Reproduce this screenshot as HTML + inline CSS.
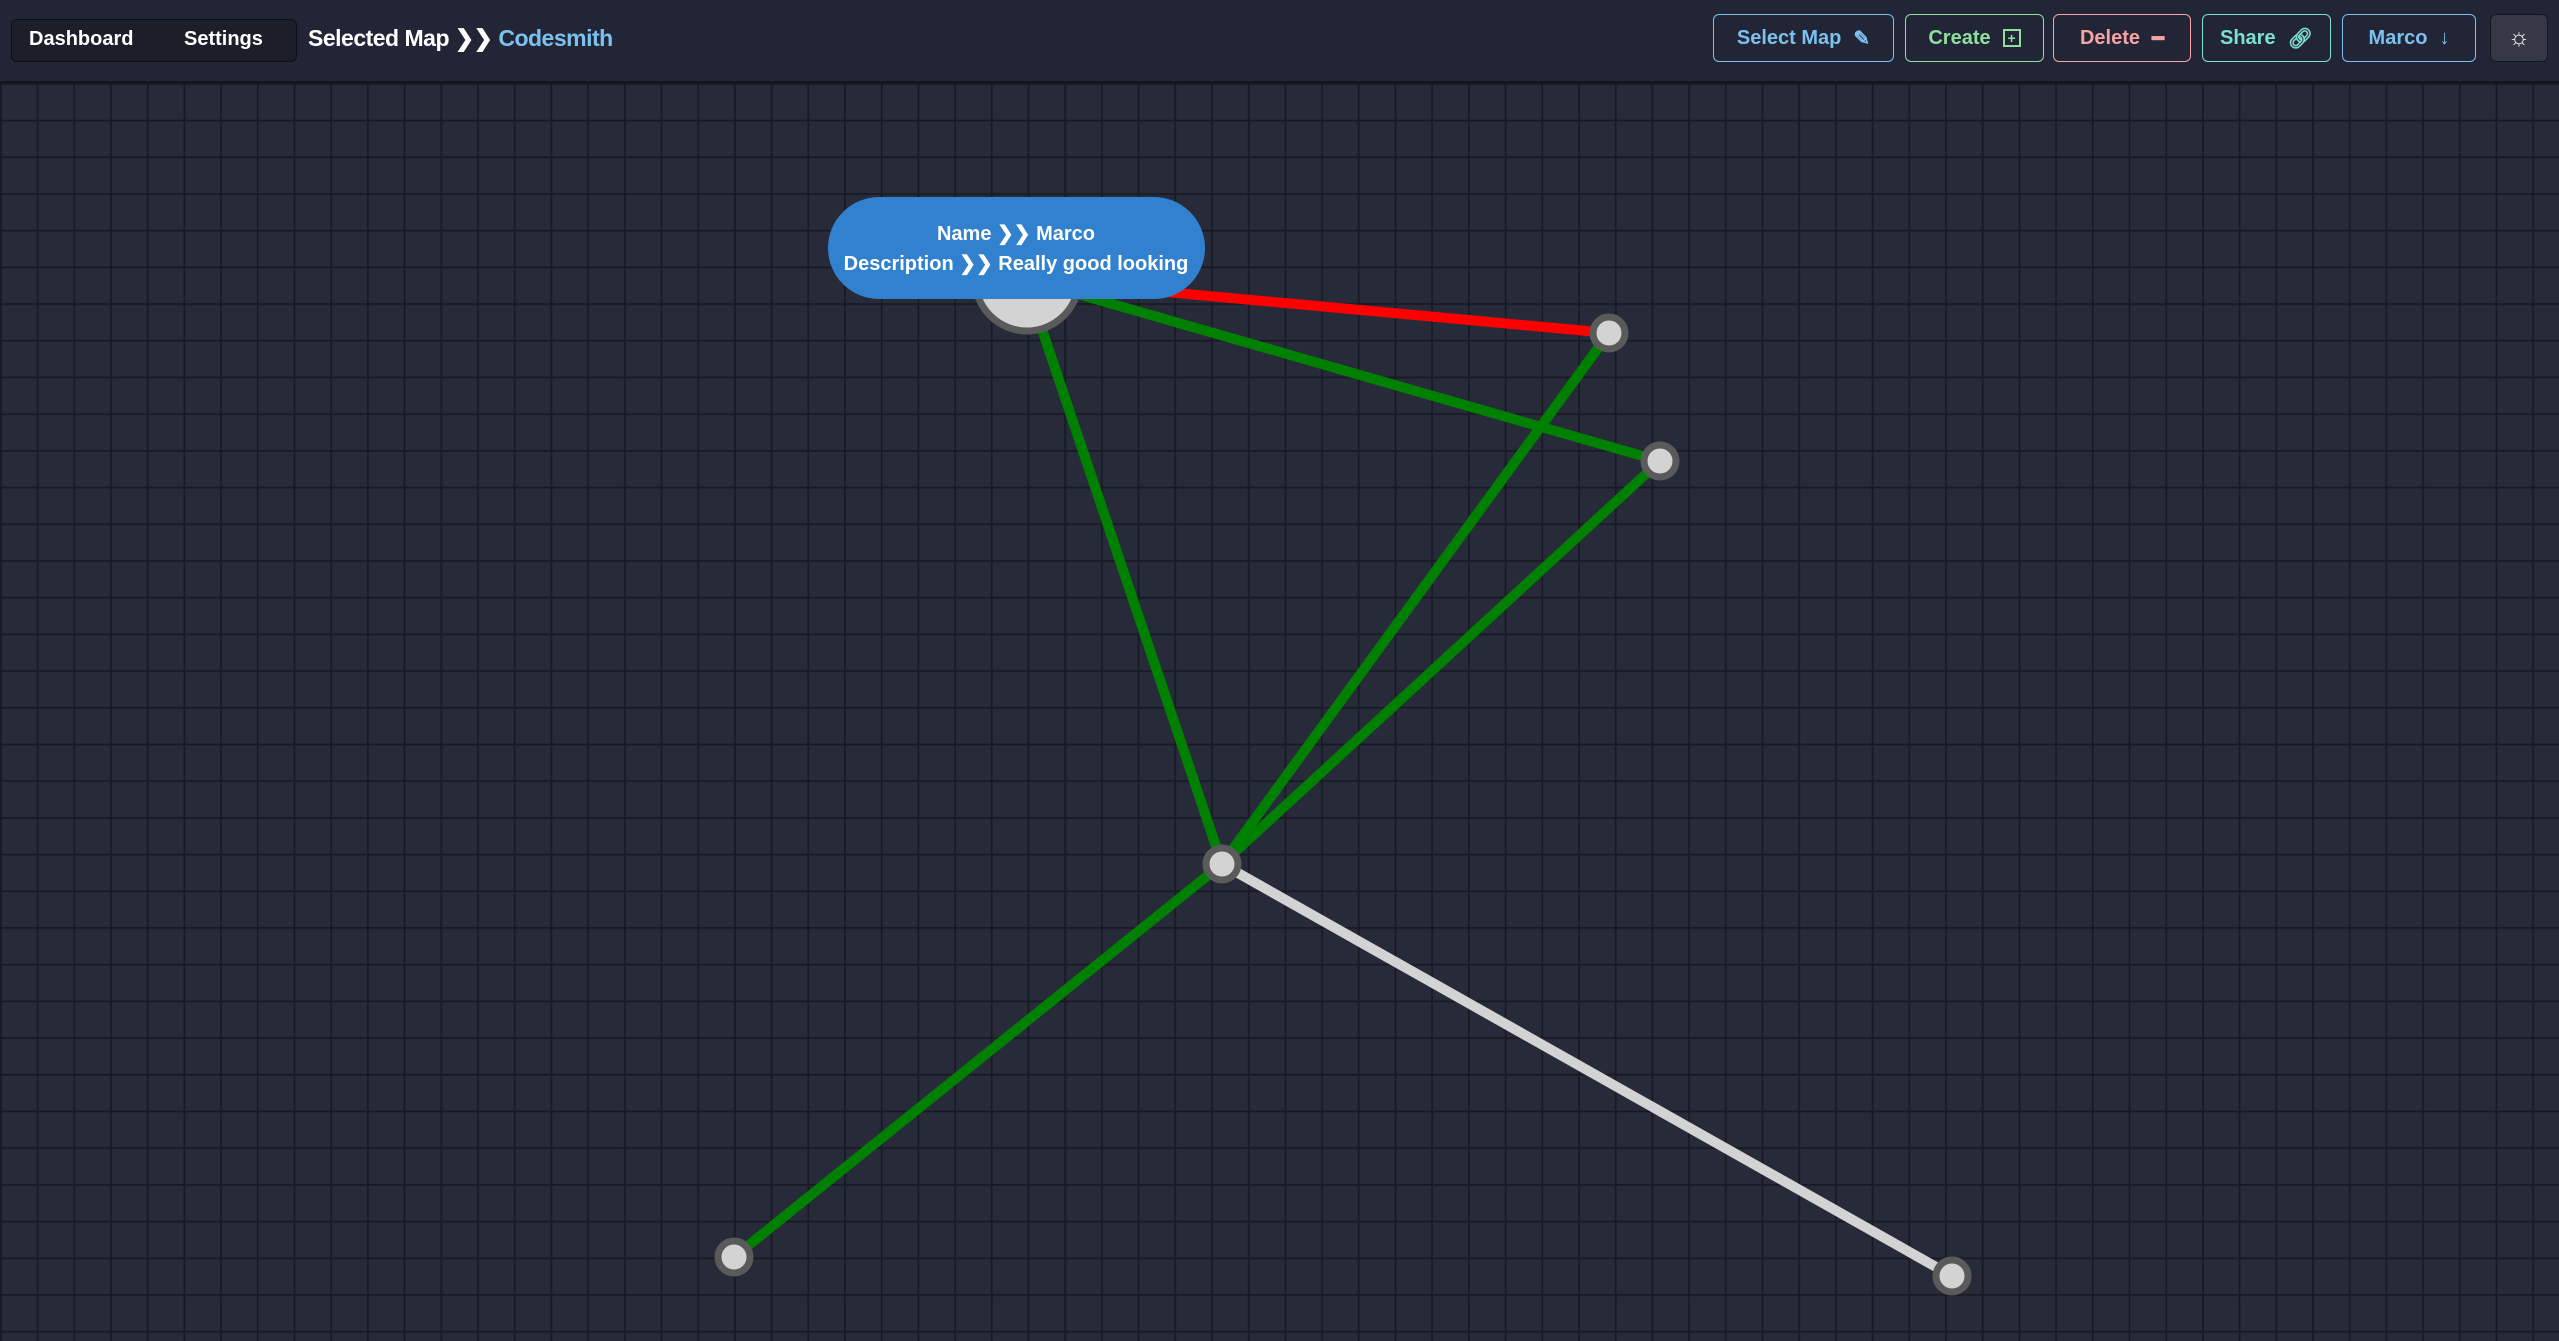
<!DOCTYPE html>
<html><head><meta charset="utf-8"><style>
html,body{margin:0;padding:0;width:2559px;height:1341px;overflow:hidden;background:#272a38;font-family:"Liberation Sans",sans-serif}
.hdr{position:absolute;left:0;top:0;width:2559px;height:81px;background:#222535;border-bottom:2px solid #14161e}
.grp{position:absolute;left:11px;top:19px;width:284px;height:41px;border:1px solid #0d0f15;border-radius:6px;background:#1c1e29}
.t{position:absolute;font-weight:bold;color:#fff;white-space:nowrap}
.btn{position:absolute;top:14px;height:48px;border:1.5px solid;border-radius:6px;box-sizing:border-box;font-weight:bold;font-size:20px;display:flex;align-items:center;justify-content:center;gap:12px;background:#222535}
svg{position:absolute;left:0;top:0}
</style></head><body>
<svg width="2559" height="1341">
<defs><pattern id="g" x="0" y="9.6" width="36.7" height="36.7" patternUnits="userSpaceOnUse"><rect width="36.7" height="36.7" fill="#272a38"/><path d="M0.5 0V36.7M0 0.5H36.7" stroke="#181a23" stroke-width="2.5"/></pattern></defs>
<rect width="2559" height="1341" fill="url(#g)"/>
<g stroke-width="10" stroke-linecap="butt">
<line x1="1025" y1="279" x2="1609" y2="333" stroke="#ff0000"/>
<line x1="1025" y1="279" x2="1660" y2="461" stroke="#008000"/>
<line x1="1025" y1="279" x2="1222" y2="864" stroke="#008000"/>
<line x1="1609" y1="333" x2="1222" y2="864" stroke="#008000"/>
<line x1="1660" y1="461" x2="1222" y2="864" stroke="#008000"/>
<line x1="1222" y1="864" x2="734" y2="1257" stroke="#008000"/>
<line x1="1222" y1="864" x2="1952" y2="1276" stroke="#d3d3d3"/>
</g>
<g fill="#d3d3d3" stroke="#5a5a5a" stroke-width="7">
<circle cx="1027" cy="279" r="52"/>
<circle cx="1609" cy="333" r="16"/>
<circle cx="1660" cy="461" r="16"/>
<circle cx="1222" cy="864" r="16"/>
<circle cx="734" cy="1257" r="16"/>
<circle cx="1952" cy="1276" r="16"/>
</g>
<rect x="828" y="197" width="377" height="102" rx="51" fill="#3181cf"/>
<text x="1016" y="240" fill="#fff" font-family="Liberation Sans, sans-serif" font-weight="bold" font-size="20" text-anchor="middle">Name ❯❯ Marco</text>
<text x="1016" y="270" fill="#fff" font-family="Liberation Sans, sans-serif" font-weight="bold" font-size="20" text-anchor="middle">Description ❯❯ Really good looking</text>
</svg>
<div class="hdr">
<div class="grp"></div>
<div class="t" style="left:29px;top:28px;font-size:20px">Dashboard</div>
<div class="t" style="left:184px;top:28px;font-size:20px">Settings</div>
<div class="t" style="left:308px;top:25px;font-size:23px;letter-spacing:-0.5px">Selected Map ❯❯ <span style="color:#7cc0ee">Codesmith</span></div>
<div class="btn" style="left:1713px;width:181px;color:#7cc0ee;border-color:#7cc0ee">Select Map <span>✎</span></div>
<div class="btn" style="left:1905px;width:139px;color:#8fe09f;border-color:#8fe09f">Create <span style="border:2px solid;width:14px;height:14px;font-size:14px;line-height:14px;text-align:center">+</span></div>
<div class="btn" style="left:2053px;width:138px;color:#f7a3a3;border-color:#f7a3a3">Delete <span>━</span></div>
<div class="btn" style="left:2202px;width:129px;color:#7ee0d0;border-color:#7ee0d0">Share <span>🔗︎</span></div>
<div class="btn" style="left:2342px;width:134px;color:#7cc0ee;border-color:#7cc0ee">Marco <span>↓</span></div>
<div class="btn" style="left:2490px;width:58px;color:#fff;border-color:#151720;background:#363945;font-size:24px">☼</div>
</div>
</body></html>
